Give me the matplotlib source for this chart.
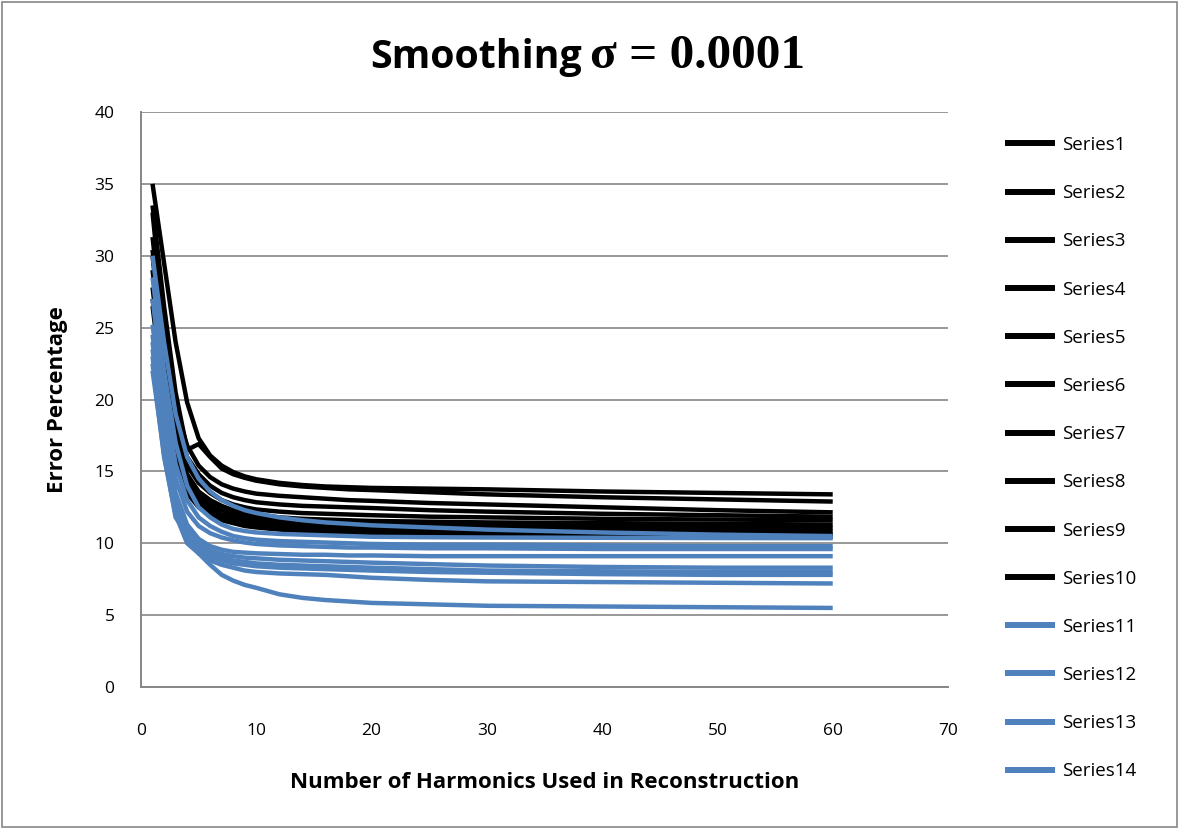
import matplotlib
matplotlib.use("Agg")
import matplotlib.pyplot as plt
from matplotlib.patches import Rectangle

harmonics = [1, 2, 3, 4, 5, 6, 7, 8, 9, 10, 12, 14, 16, 18, 20, 25, 30, 40, 50, 60]

series1 = [35.0, 29.5, 24.0, 19.8, 17.3, 16.1, 15.4, 14.95, 14.65, 14.45, 14.2, 14.05, 13.95, 13.9, 13.85, 13.8, 13.75, 13.6, 13.5, 13.4]
series2 = [33.5, 26.5, 20.5, 16.5, 16.9, 16.0, 15.2, 14.8, 14.55, 14.35, 14.1, 13.95, 13.85, 13.75, 13.7, 13.55, 13.4, 13.2, 13.05, 12.9]
series3 = [33.0, 25.0, 19.5, 16.8, 15.4, 14.6, 14.1, 13.8, 13.6, 13.45, 13.3, 13.2, 13.1, 13.0, 12.95, 12.8, 12.7, 12.5, 12.3, 12.15]
series4 = [31.3, 24.0, 18.5, 16.0, 14.8, 14.0, 13.5, 13.2, 13.0, 12.85, 12.7, 12.6, 12.55, 12.5, 12.45, 12.3, 12.2, 12.05, 11.95, 11.85]
series5 = [30.4, 23.0, 17.8, 15.4, 14.2, 13.5, 13.0, 12.7, 12.5, 12.35, 12.2, 12.1, 12.05, 12.0, 11.95, 11.85, 11.8, 11.7, 11.65, 11.6]
series6 = [30.0, 22.5, 17.2, 14.8, 13.6, 13.0, 12.6, 12.3, 12.1, 11.95, 11.8, 11.7, 11.65, 11.6, 11.55, 11.5, 11.45, 11.4, 11.35, 11.3]
series7 = [29.0, 22.0, 16.8, 14.4, 13.3, 12.7, 12.3, 12.05, 11.85, 11.7, 11.55, 11.45, 11.4, 11.35, 11.3, 11.25, 11.2, 11.15, 11.1, 11.05]
series8 = [27.8, 21.0, 16.3, 14.0, 13.0, 12.4, 12.0, 11.8, 11.6, 11.45, 11.3, 11.2, 11.15, 11.1, 11.05, 11.0, 10.95, 10.9, 10.85, 10.8]
series9 = [27.0, 20.5, 16.0, 13.8, 12.8, 12.2, 11.8, 11.6, 11.4, 11.25, 11.1, 11.0, 10.95, 10.9, 10.85, 10.8, 10.75, 10.7, 10.65, 10.6]
series10 = [26.5, 20.0, 15.6, 13.5, 12.5, 12.0, 11.6, 11.4, 11.2, 11.1, 10.95, 10.85, 10.8, 10.75, 10.7, 10.65, 10.6, 10.55, 10.5, 10.45]
series11 = [30.0, 24.0, 19.0, 16.0, 14.5, 13.6, 13.0, 12.6, 12.3, 12.1, 11.8, 11.6, 11.45, 11.35, 11.25, 11.1, 10.95, 10.75, 10.6, 10.5]
series12 = [28.5, 22.0, 17.0, 14.0, 12.5, 11.8, 11.3, 11.0, 10.85, 10.75, 10.65, 10.6, 10.55, 10.5, 10.45, 10.42, 10.4, 10.38, 10.36, 10.35]
series13 = [27.0, 20.5, 15.5, 13.0, 11.8, 11.2, 10.8, 10.5, 10.35, 10.25, 10.15, 10.1, 10.05, 10.0, 9.95, 9.9, 9.9, 9.85, 9.8, 9.8]
series14 = [25.2, 19.0, 14.5, 12.2, 11.2, 10.7, 10.4, 10.2, 10.05, 9.95, 9.85, 9.8, 9.75, 9.7, 9.7, 9.65, 9.65, 9.6, 9.6, 9.6]
series15 = [24.5, 18.0, 13.5, 11.3, 10.3, 9.8, 9.55, 9.4, 9.35, 9.3, 9.25, 9.2, 9.2, 9.15, 9.15, 9.1, 9.1, 9.1, 9.1, 9.1]
series16 = [24.0, 17.5, 13.0, 11.0, 10.0, 9.5, 9.25, 9.1, 9.0, 8.95, 8.85, 8.8, 8.75, 8.7, 8.65, 8.55, 8.45, 8.35, 8.3, 8.3]
series17 = [23.5, 17.0, 12.5, 10.5, 9.7, 9.3, 9.0, 8.8, 8.7, 8.6, 8.5, 8.45, 8.4, 8.35, 8.3, 8.2, 8.1, 8.05, 8.0, 8.0]
series18 = [23.0, 16.5, 12.2, 10.3, 9.5, 9.1, 8.8, 8.6, 8.5, 8.4, 8.3, 8.25, 8.2, 8.15, 8.1, 8.0, 7.95, 7.85, 7.8, 7.8]
series19 = [22.5, 16.0, 12.0, 10.0, 9.3, 8.8, 8.5, 8.3, 8.1, 8.0, 7.9, 7.85, 7.8, 7.7, 7.6, 7.45, 7.35, 7.3, 7.25, 7.2]
series20 = [22.0, 16.2, 11.8, 10.6, 9.3, 8.5, 7.8, 7.4, 7.1, 6.9, 6.45, 6.2, 6.05, 5.95, 5.85, 5.75, 5.65, 5.6, 5.55, 5.5]

all_series = [series1, series2, series3, series4, series5, series6, series7, series8, series9, series10,
              series11, series12, series13, series14, series15, series16, series17, series18, series19, series20]
series_names = ["Series%d" % (i + 1) for i in range(len(all_series))]

x_ticks = [0, 10, 20, 30, 40, 50, 60, 70]
y_ticks = [0, 5, 10, 15, 20, 25, 30, 35, 40]

BLACK = "#000000"
BLUE = "#4F81BD"
GRID = "#868686"
FONT = "Open Sans"

fig = plt.figure(figsize=(11.8, 8.3), dpi=100)
fig.patch.set_facecolor("white")
ax = fig.add_axes([141 / 1180, 1 - 687 / 830, 807 / 1180, 575 / 830])

handles = []
for i, (vals, name) in enumerate(zip(all_series, series_names)):
    color = BLACK if i < 10 else BLUE
    h, = ax.plot(harmonics, vals, color=color, lw=3.2, solid_joinstyle="round", solid_capstyle="butt", label=name)
    handles.append(h)

ax.set_xlim(0, 70)
ax.set_ylim(0, 40)
ax.set_xticks(x_ticks)
ax.set_yticks(y_ticks)
ax.yaxis.grid(True, color=GRID, lw=1.2)
ax.set_axisbelow(True)
for s in ["top", "right"]:
    ax.spines[s].set_visible(False)
for s in ["left", "bottom"]:
    ax.spines[s].set_color(GRID)
    ax.spines[s].set_linewidth(1.4)
ax.tick_params(axis="both", length=0, labelsize=12.5, labelcolor="black")
ax.tick_params(axis="y", pad=19)
ax.tick_params(axis="x", pad=26)
for lab in ax.get_xticklabels() + ax.get_yticklabels():
    lab.set_fontfamily(FONT)

ax.set_xlabel("Number of Harmonics Used in Reconstruction", fontsize=16, fontweight="bold", family=FONT)
ax.set_ylabel("Error Percentage", fontsize=16, fontweight="bold", family=FONT)
ax.xaxis.set_label_coords(0.5, (687 - 782) / 575)
ax.xaxis.label.set_va("center")
ax.yaxis.set_label_coords((57 - 141) / 807, 0.5)
ax.yaxis.label.set_va("center")

fig.text(582 / 1180, 1 - 68 / 830, "Smoothing", fontsize=28.3, fontweight="bold", family=FONT, ha="right", va="baseline")
fig.text(590 / 1180, 1 - 68 / 830, "σ = 0.0001", fontsize=35.5, fontweight="bold", family="Liberation Serif", ha="left", va="baseline")

leg = fig.legend(handles[:14], series_names[:14], loc="upper left", bbox_to_anchor=(1005 / 1180, 1 - 136 / 830),
                 frameon=False, prop={"family": FONT, "size": 13.5}, handlelength=2.67, handletextpad=0.37,
                 labelspacing=1.61, borderaxespad=0, borderpad=0)
for ln in leg.get_lines():
    ln.set_linewidth(4.3)

fig.patches.append(Rectangle((2 / 1180, 3 / 830), 1175 / 1180, 825 / 830, transform=fig.transFigure,
                             fill=False, edgecolor=GRID, lw=1.2))

fig.savefig("out.png", dpi=100)
